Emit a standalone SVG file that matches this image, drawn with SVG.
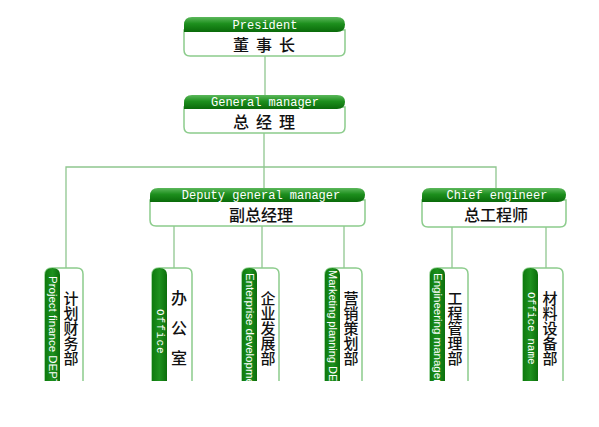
<svg xmlns="http://www.w3.org/2000/svg" width="599" height="427" viewBox="0 0 599 427">
<defs>
<linearGradient id="hg" x1="0" y1="0" x2="0" y2="1">
<stop offset="0" stop-color="#5cb85c"/>
<stop offset="0.45" stop-color="#1d8f1d"/>
<stop offset="1" stop-color="#0a6a0a"/>
</linearGradient>
<linearGradient id="vg" x1="0" y1="0" x2="1" y2="0">
<stop offset="0" stop-color="#0e7a0e"/>
<stop offset="0.5" stop-color="#1e911e"/>
<stop offset="1" stop-color="#0b6e0b"/>
</linearGradient>
<clipPath id="cut"><rect x="0" y="0" width="599" height="381"/></clipPath>
</defs>
<style>
.conn{stroke:#8fc68f;stroke-width:1.3;fill:none}
.body{fill:#ffffff;stroke:#8ccc8c;stroke-width:1.5}
.hdr{fill:url(#hg)}
.vbar{fill:url(#vg)}
.ht{font-family:"Liberation Mono","DejaVu Sans Mono",monospace;font-size:12px;fill:#ffffff;text-anchor:middle}
.cn{font-family:"Noto Sans CJK SC","Noto Sans",sans-serif;font-size:16px;font-weight:500;fill:#111;text-anchor:middle}
.vc{font-family:"Noto Sans CJK SC","Noto Sans",sans-serif;font-size:15px;font-weight:500;fill:#111;writing-mode:vertical-rl}
.vt{font-family:"Liberation Sans",Arial,sans-serif;font-size:11.5px;fill:#ffffff;dominant-baseline:central}
.vm{font-family:"Liberation Mono","DejaVu Sans Mono",monospace;font-size:11px;fill:#ffffff;dominant-baseline:central}
</style>
<g id="connectors">
<line class="conn" x1="265" y1="56" x2="265" y2="95"/>
<line class="conn" x1="264" y1="133" x2="264" y2="188"/>
<polyline class="conn" points="66,268 66,167 496,167 496,188"/>
<line class="conn" x1="174" y1="226" x2="174" y2="268"/>
<line class="conn" x1="262" y1="226" x2="262" y2="268"/>
<line class="conn" x1="344" y1="226" x2="344" y2="268"/>
<line class="conn" x1="452" y1="227" x2="452" y2="268"/>
<line class="conn" x1="546" y1="227" x2="546" y2="268"/>
</g>
<g id="president">
<path class="body" d="M184,30 L345,30 L345,50 Q345,56 339,56 L190,56 Q184,56 184,50 Z"/>
<path class="hdr" d="M192,17 L337,17 Q345,17 345,24.5 Q345,32 337,32 L184,32 L184,25 Q184,17 192,17 Z"/>
<text class="ht" x="265" y="29">President</text>
<text class="cn" x="241 264 287" y="51">董事长</text>
</g>
<g id="general-manager">
<path class="body" d="M184,107 L345,107 L345,127 Q345,133 339,133 L190,133 Q184,133 184,127 Z"/>
<path class="hdr" d="M192,95 L337,95 Q345,95 345,102 Q345,109 337,109 L184,109 L184,103 Q184,95 192,95 Z"/>
<text class="ht" x="265" y="106">General manager</text>
<text class="cn" x="241 264 287" y="128">总经理</text>
</g>
<g id="deputy-gm">
<path class="body" d="M150,200 L365,200 L365,220 Q365,226 359,226 L156,226 Q150,226 150,220 Z"/>
<path class="hdr" d="M158,188 L357,188 Q365,188 365,195 Q365,202 357,202 L150,202 L150,196 Q150,188 158,188 Z"/>
<text class="ht" x="261" y="199">Deputy general manager</text>
<text class="cn" x="261" y="221">副总经理</text>
</g>
<g id="chief-engineer">
<path class="body" d="M422,200 L566,200 L566,221 Q566,227 560,227 L428,227 Q422,227 422,221 Z"/>
<path class="hdr" d="M430,188 L558,188 Q566,188 566,195 Q566,202 558,202 L422,202 L422,196 Q422,188 430,188 Z"/>
<text class="ht" x="497" y="199">Chief engineer</text>
<text class="cn" x="496" y="221">总工程师</text>
</g>
<g id="project-finance" clip-path="url(#cut)">
<path class="body" d="M45,395 L45,275 Q45,268 52,268 L77,268 Q83,268 83,274 L83,395"/>
<path class="vbar" d="M45,395 L45,275 Q45,268 52.5,268 Q60,268 60,275 L60,395 Z"/>
<text class="vt" transform="translate(52.5,276) rotate(90)">Project finance DEPT</text>
<text class="vc" x="71" y="291">计划财务部</text>
</g>
<g id="office" clip-path="url(#cut)">
<path class="body" d="M152,395 L152,275 Q152,268 159,268 L186,268 Q192,268 192,274 L192,395"/>
<path class="vbar" d="M152,395 L152,275 Q152,268 159.5,268 Q167,268 167,275 L167,395 Z"/>
<text class="vm" transform="translate(159.5,309) rotate(90)" letter-spacing="1">Office</text>
<text class="vc" x="179" y="290" style="font-size:16px;letter-spacing:14px">办公室</text>
</g>
<g id="enterprise-development" clip-path="url(#cut)">
<path class="body" d="M242,395 L242,275 Q242,268 249,268 L273,268 Q279,268 279,274 L279,395"/>
<path class="vbar" d="M242,395 L242,275 Q242,268 249.5,268 Q257,268 257,275 L257,395 Z"/>
<text class="vt" transform="translate(249.5,273) rotate(90)">Enterprise development</text>
<text class="vc" x="268" y="291">企业发展部</text>
</g>
<g id="marketing-planning" clip-path="url(#cut)">
<path class="body" d="M325,395 L325,275 Q325,268 332,268 L356,268 Q362,268 362,274 L362,395"/>
<path class="vbar" d="M325,395 L325,275 Q325,268 332.5,268 Q340,268 340,275 L340,395 Z"/>
<text class="vt" transform="translate(332.5,270) rotate(90)" style="font-size:11px">Marketing planning DEPT</text>
<text class="vc" x="351" y="291">营销策划部</text>
</g>
<g id="engineering-management" clip-path="url(#cut)">
<path class="body" d="M430,395 L430,275 Q430,268 437,268 L462,268 Q468,268 468,274 L468,395"/>
<path class="vbar" d="M430,395 L430,275 Q430,268 437.5,268 Q445,268 445,275 L445,395 Z"/>
<text class="vt" transform="translate(437.5,273) rotate(90)">Engineering management</text>
<text class="vc" x="455" y="291">工程管理部</text>
</g>
<g id="office-name" clip-path="url(#cut)">
<path class="body" d="M523,395 L523,275 Q523,268 530,268 L557,268 Q563,268 563,274 L563,395"/>
<path class="vbar" d="M523,395 L523,275 Q523,268 530.5,268 Q538,268 538,275 L538,395 Z"/>
<text class="vm" transform="translate(530.5,292) rotate(90)">Office name</text>
<text class="vc" x="550" y="291">材料设备部</text>
</g>
</svg>
